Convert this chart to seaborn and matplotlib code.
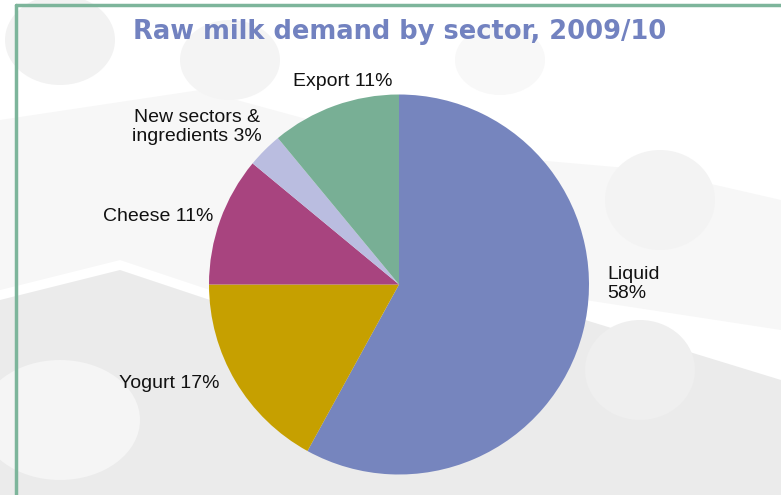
import matplotlib
matplotlib.use("Agg")
import matplotlib.pyplot as plt
import seaborn as sns
import numpy as np
from matplotlib.patches import Ellipse, Polygon
from matplotlib.lines import Line2D

sectors = ["Liquid", "Yogurt", "Cheese", "New sectors &\ningredients", "Export"]
shares = [58, 17, 11, 3, 11]
colors = ["#7685BE", "#C6A000", "#A8447F", "#BABDE0", "#78AF95"]
title = "Raw milk demand by sector, 2009/10"

sns.set_theme(style="white")
plt.rcParams['font.family'] = ['Liberation Sans', 'DejaVu Sans']

W, H = 781, 495
fig = plt.figure(figsize=(W / 100, H / 100), dpi=100)
fig.patch.set_facecolor("white")

# faint milk-splash background
bg = fig.add_axes([0, 0, 1, 1])
bg.set_xlim(0, W); bg.set_ylim(H, 0); bg.axis("off")
bg.add_patch(Polygon([[0, 300], [120, 270], [300, 330], [520, 300], [781, 380],
                      [781, 495], [0, 495]], closed=True, color="#EBEBEB", lw=0))
bg.add_patch(Polygon([[0, 120], [200, 90], [420, 150], [650, 170], [781, 200],
                      [781, 330], [520, 290], [300, 320], [120, 260], [0, 290]],
                     closed=True, color="#F7F7F7", lw=0))
for (ex, ey, w, h, c) in [(60, 40, 110, 90, "#F2F2F2"), (230, 60, 100, 80, "#F4F4F4"),
                          (660, 200, 110, 100, "#F3F3F3"), (640, 370, 110, 100, "#EFEFEF"),
                          (60, 420, 160, 120, "#F5F5F5"), (500, 60, 90, 70, "#F8F8F8")]:
    bg.add_patch(Ellipse((ex, ey), w, h, color=c, lw=0))
bg.add_line(Line2D([16, 16], [5, H], color="#7DB59B", lw=2.5))
bg.add_line(Line2D([16, W], [5, 5], color="#7DB59B", lw=2.5))

cx, cy, r = 399, 284.5, 190
ax = fig.add_axes([(cx - r) / W, 1 - (cy + r) / H, 2 * r / W, 2 * r / H])
ax.pie(shares, colors=colors, startangle=90, counterclock=False, radius=1,
       wedgeprops=dict(linewidth=0))
ax.set_xlim(-1, 1); ax.set_ylim(-1, 1)
ax.axis("off")

fig.text(400 / W, 1 - 32 / H, title, ha="center", va="center", fontsize=18.5,
         fontweight="bold", color="#7282C0", family=["DejaVu Sans"])

lab_fs = 14
def lab(x, y, s, ha="center"):
    fig.text(x / W, 1 - y / H, s, ha=ha, va="center", fontsize=lab_fs, color="#111111",
             linespacing=1.1)

lab(343, 81, f"{sectors[4]} {shares[4]}%")
lab(197, 127, f"{sectors[3]} {shares[3]}%")
lab(158, 217, f"{sectors[2]} {shares[2]}%")
lab(607, 284, f"{sectors[0]}\n{shares[0]}%", ha="left")
lab(169, 383, f"{sectors[1]} {shares[1]}%")

fig.savefig("out.png", dpi=100)
